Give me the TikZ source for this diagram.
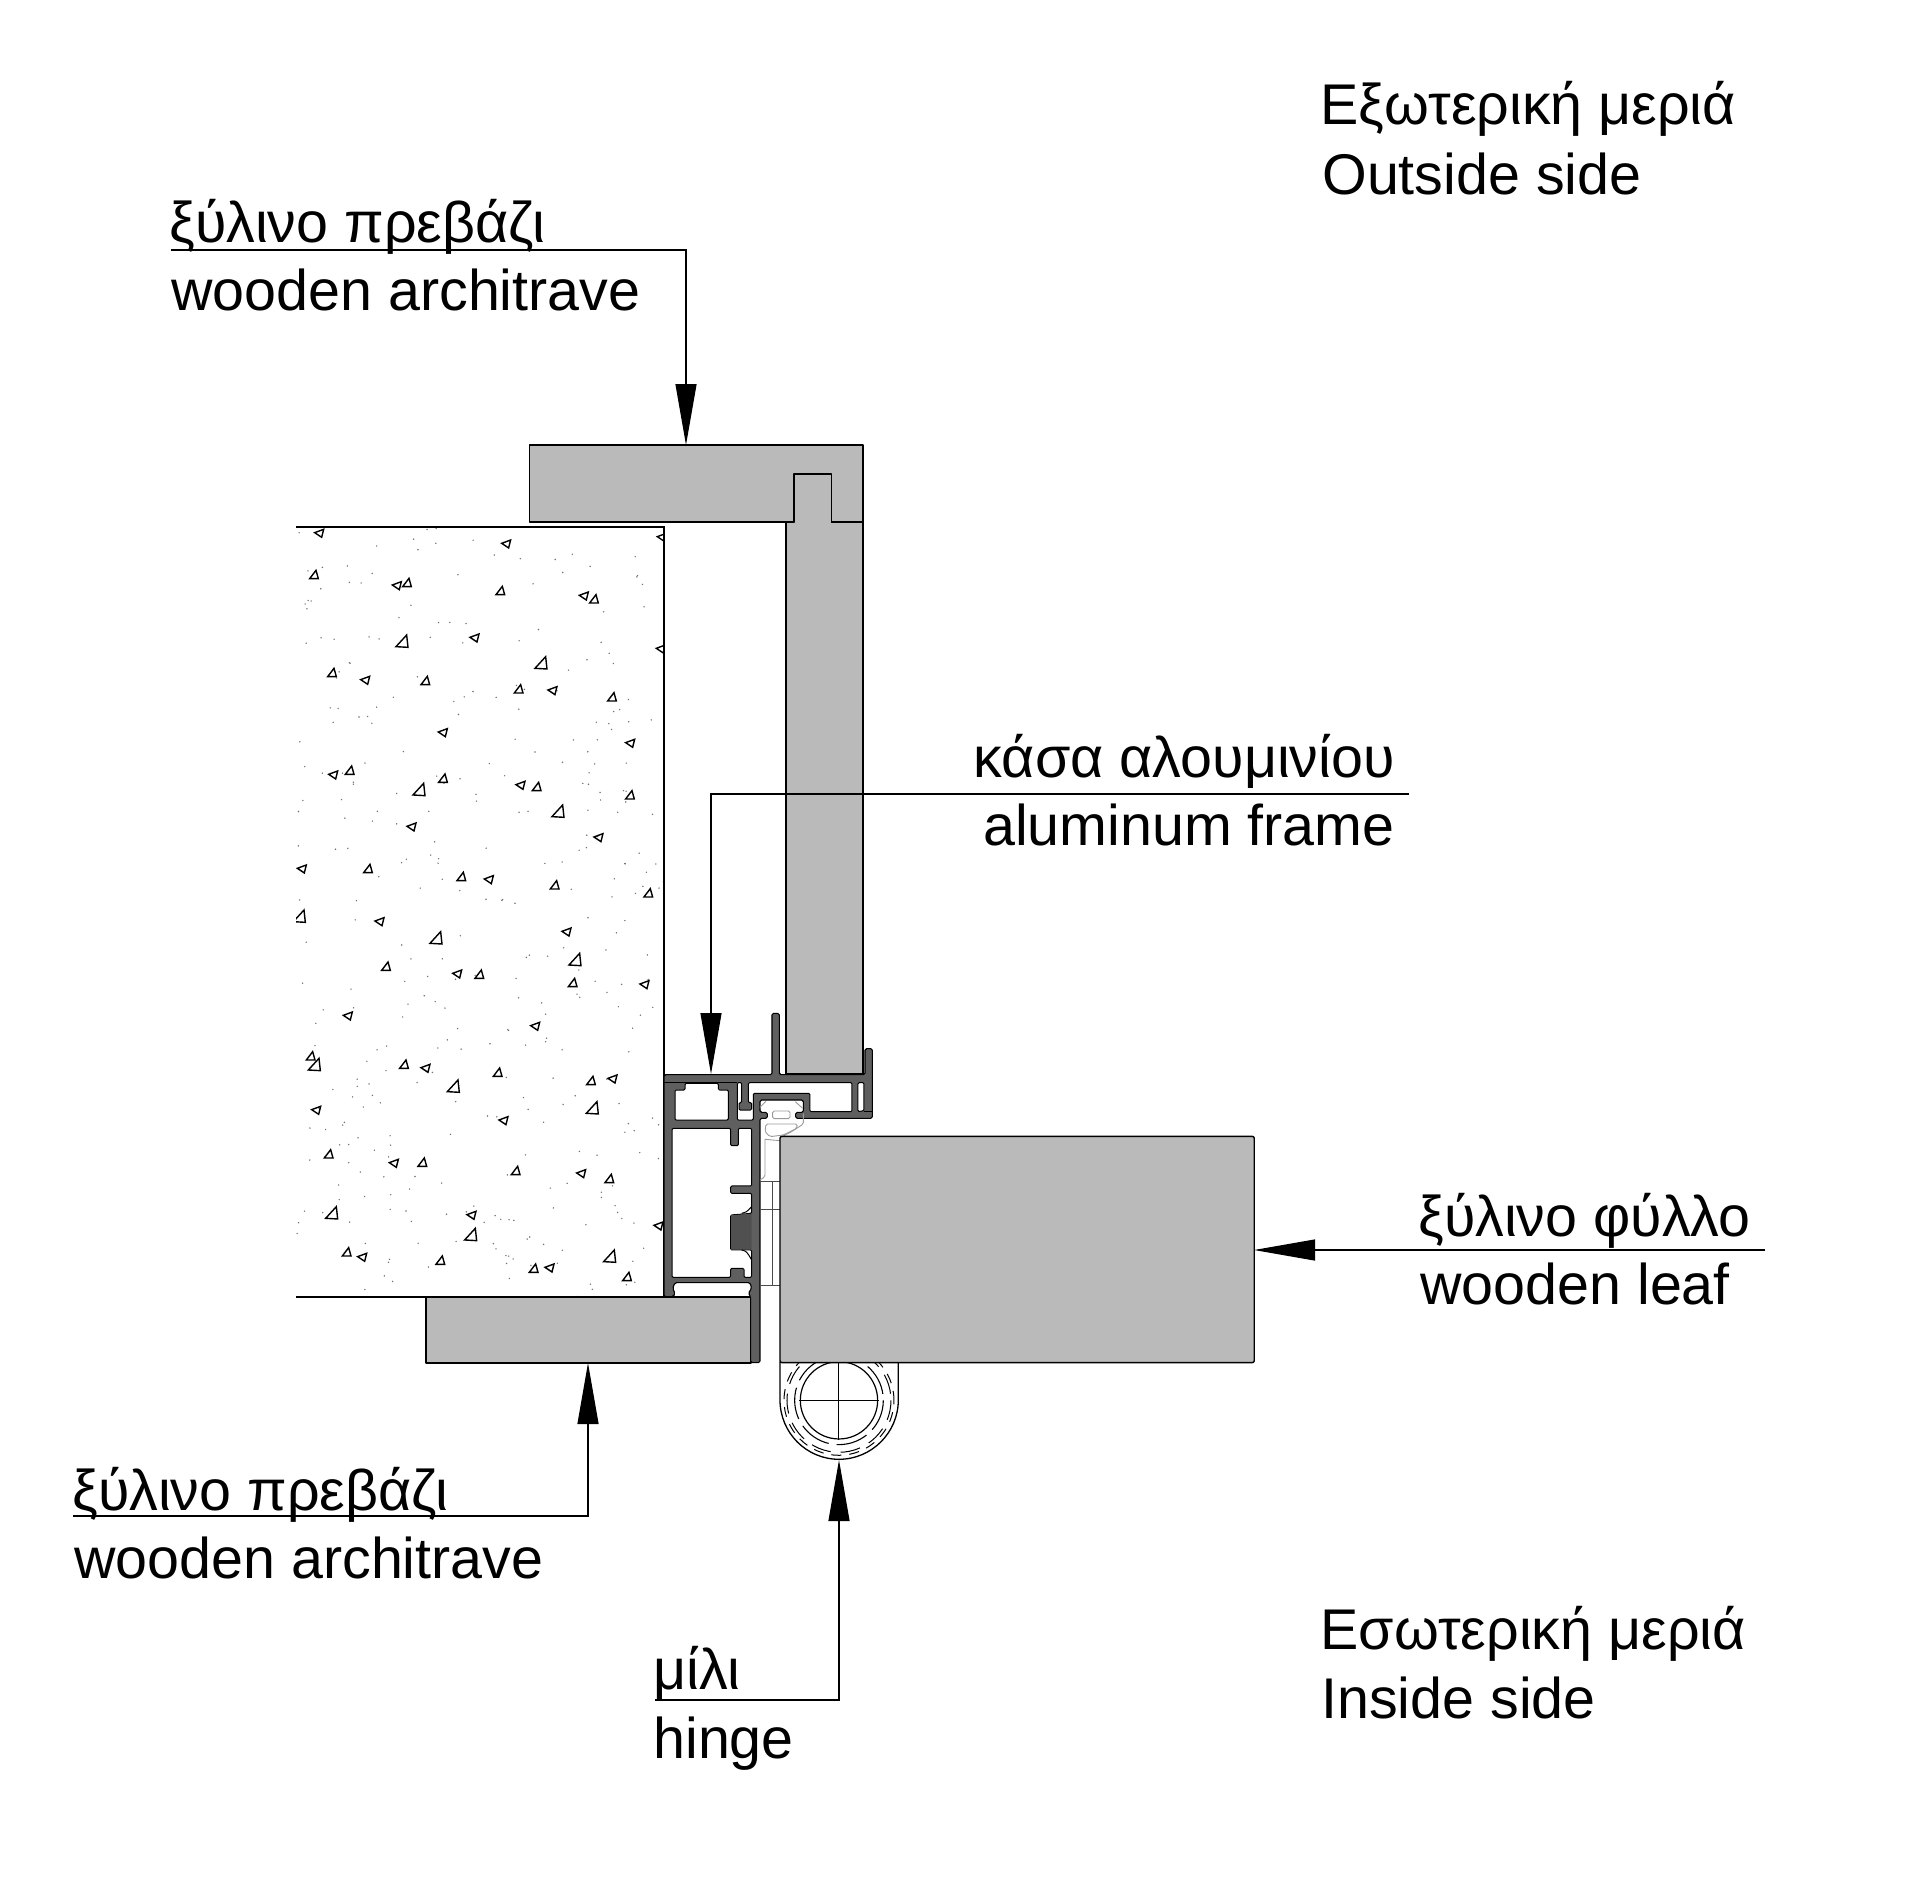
\documentclass[tikz,border=0pt]{standalone}
\usepackage{fontspec}
\setmainfont{Liberation Sans}
\usetikzlibrary{arrows.meta}
\definecolor{woodgrey}{HTML}{BABABA}
\definecolor{alugrey}{HTML}{5F5F5F}
\definecolor{blockgrey}{HTML}{505050}
\definecolor{sealgrey}{HTML}{9A9A9A}
\tikzset{
	woodpart/.style={fill=woodgrey,draw=black,line width=0.7pt,line join=round},
	alupart/.style={fill=alugrey,draw=black,line width=0.55pt,line join=round,rounded corners=0.8pt},
	alugap/.style={fill=white,draw=black,line width=0.5pt,line join=round,rounded corners=0.6pt},
	sealline/.style={draw=sealgrey,line width=0.45pt,rounded corners=0.8pt},
	grit/.style={draw=black,line width=0.7pt,line join=miter},
	leader/.style={draw=black,line width=0.6pt,-{Triangle[length=30.5pt,width=10.5pt]}},
	txt/.style={inner sep=0pt,anchor=base west,font=\fontsize{28.7}{34}\selectfont},
}
\begin{document}
\begin{tikzpicture}[x=0.5pt,y=-0.5pt]
	\useasboundingbox (0,0) rectangle (1920,1900);
	% concrete wall
	\begin{scope}
		\clip (296,527) rectangle (664,1297);
		\pgfmathsetseed{4711}
		\foreach \i in {1,...,340}
		{
			\fill[black!55] ({296+368*rnd},{527+770*rnd}) circle (0.8);
		}
		\begin{scope}[shift={(280,520)},scale=0.3333]
			\foreach \x/\y in {117/40,678/72,350/197,911/228,583/354,255/481,817/512,488/638,1050/670,159/765,721/796,394/921,955/953,65/1047,626/1079,1145/52,1142/387}
			{
				\draw[grit] (\x-13,\y-2) -- (\x+14,\y-12) -- (\x+8,\y+12) -- cycle;
			}
			\foreach \x/\y in {102/165,381/189,661/213,942/238,156/459,436/483,716/508,996/532,209/752,489/776,770/801,1050/826,264/1047,544/1071,824/1096,1105/1120}
			{
				\draw[grit] (\x-13,\y+11) -- (\x+13,\y+11) -- (\x+6,\y-14) -- cycle;
			}
			\foreach \x/\y in {367/365,784/430,418/810,835/875}
			{
				\draw[grit] (\x-19,\y+15) -- (\x+17,\y+17) -- (\x+13,\y-20) -- cycle;
			}
		\end{scope}
		\begin{scope}[shift={(280,900)},scale=0.3333]
			\foreach \x/\y in {298/65,859/96,531/222,1093/254,203/348,765/379,436/505,997/537,108/631,670/662,341/790,903/821,574/946,1135/978,246/1072,808/1104}
			{
				\draw[grit] (\x-13,\y-2) -- (\x+14,\y-12) -- (\x+8,\y+12) -- cycle;
			}
			\foreach \x/\y in {318/200,598/224,878/249,92/469,372/494,653/518,933/543,146/763,427/788,707/813,988/837,200/1057,481/1082,761/1106,1041/1131}
			{
				\draw[grit] (\x-13,\y+11) -- (\x+13,\y+11) -- (\x+6,\y-14) -- cycle;
			}
			\foreach \x/\y in {59/50,469/115,886/180,104/495,521/560,938/625,156/940,573/1005,990/1070}
			{
				\draw[grit] (\x-19,\y+15) -- (\x+17,\y+17) -- (\x+13,\y-20) -- cycle;
			}
		\end{scope}
	\end{scope}
	\draw[line width=0.7pt] (296,527) -- (664,527) -- (664,1297) -- (296,1297);
	% wooden parts
	\filldraw[woodpart] (786,1074) -- (786,522) -- (794,522) -- (794,474) -- (831.5,474) -- (831.5,522) -- (863,522) -- (863,1074) -- cycle;
	\filldraw[woodpart] (529.5,445) -- (863,445) -- (863,522) -- (831.5,522) -- (831.5,474) -- (794,474) -- (794,522) -- (529.5,522) -- cycle;
	\filldraw[woodpart] (426,1297) rectangle (751,1363);
	% frame, hinge and leaf, read off at three times the size
	\begin{scope}[shift={(640,1000)},scale=0.3333]
		\filldraw[alupart] (72,224) -- (396,224) -- (396,40) -- (418,40) -- (418,224) -- (675,224) -- (675,146) -- (697,146) -- (697,355) -- (467,355) -- (467,337) -- (490,337) -- (490,300) -- (360,300) -- (360,337) -- (382,337) -- (382,355) -- (360,355) -- (360,1088) -- (332,1088) -- (332,890) -- (325,880) -- (335,865) -- (330,848) -- (105,848) -- (98,865) -- (105,880) -- (100,890) -- (72,890) -- cycle;
		\draw[line width=0.5pt] (72,248) -- (292,248);
		\draw[line width=0.5pt] (672,333) -- (697,333);
		\filldraw[alugap] (292,248) -- (305,248) -- (305,308) -- (297,308) -- (297,330) -- (335,330) -- (335,308) -- (325,308) -- (325,248) -- (636,248) -- (636,335) -- (510,335) -- (510,280) -- (340,280) -- (340,360) -- (292,360) -- cycle;
		\filldraw[alugap] (654,248) -- (672,248) -- (672,332) -- (654,335) -- cycle;
		\filldraw[alugap] (105,270) -- (135,270) -- (135,250) -- (235,250) -- (235,270) -- (265,270) -- (265,360) -- (105,360) -- cycle;
		\filldraw[alugap] (96,385) -- (272,385) -- (272,437) -- (295,437) -- (295,385) -- (335,385) -- (335,558) -- (272,558) -- (272,580) -- (335,580) -- (335,640) -- (272,645) -- (272,750) -- (335,750) -- (335,832) -- (312,832) -- (312,805) -- (272,805) -- (272,832) -- (96,832) -- cycle;
		\fill[blockgrey] (273,646) -- (335,641) -- (335,749) -- (273,749) -- cycle;
		\draw[line width=0.5pt] (305,640) .. controls (320,636) .. (335,620);
		\draw[line width=0.5pt] (305,750) .. controls (320,754) .. (335,780);
		% seal and strap
		\draw[sealline] (360,322) -- (378,304);
		\draw[sealline] (466,305) -- (488,325);
		\draw[sealline] (398,333) rectangle (450,356);
		\draw[sealline] (490,340) -- (490,372) -- (450,398) -- (432,406) -- (420,420);
		\draw[sealline] (378,372) -- (472,372) -- (470,385) -- (430,405) -- (390,410) -- (375,395) -- cycle;
		\draw[sealline] (375,418) -- (420,422);
		\draw[sealline] (375,418) -- (375,530) -- (360,540);
		\draw[line width=0.45pt,black!70] (360,545) -- (420,545) (360,628) -- (420,628) (360,855) -- (420,855) (397,545) -- (397,855);
		% hinge
		\draw[line width=0.65pt] (420,1085) -- (420,1200) .. controls (420,1298) and (499,1378) .. (597,1378) .. controls (695,1378) and (775,1298) .. (775,1200) -- (775,1085);
		\draw[line width=0.6pt] (597,1201) circle (116);
		\draw[line width=0.5pt] (477,1201) -- (718,1201) (597,1085) -- (597,1320);
		\draw[line width=0.55pt,dash pattern=on 16pt off 4pt] (597,1201) circle (133);
		\draw[line width=0.5pt,dash pattern=on 10pt off 5pt] (597,1201) circle (156);
		\draw[line width=0.5pt,dash pattern=on 5pt off 4pt,dash phase=3pt] (597,1201) circle (165);
		\filldraw[woodpart,rounded corners=1pt] (420,409) -- (1843,409) -- (1843,1088) -- (420,1088) -- cycle;
	\end{scope}
	% labels
	\node[txt] (uparchgr) at (169,242) {ξύλινο πρεβάζι};
	\node[txt] (uparchen) at (171,310) {wooden architrave};
	\node[txt] (outgr) at (1320,125) {Εξωτερική μεριά};
	\node[txt] (outen) at (1322,194) {Outside side};
	\node[txt,anchor=base east] (framegr) at (1395,777) {κάσα αλουμινίου};
	\node[txt,anchor=base east] (frameen) at (1395,845) {aluminum frame};
	\node[txt] (leafgr) at (1418,1236) {ξύλινο φύλλο};
	\node[txt] (leafen) at (1420,1304) {wooden leaf};
	\node[txt] (lowarchgr) at (72,1510) {ξύλινο πρεβάζι};
	\node[txt] (lowarchen) at (74,1578) {wooden architrave};
	\node[txt] (hingegr) at (653,1689) {μίλι};
	\node[txt] (hingeen) at (653,1758) {hinge};
	\node[txt] (ingr) at (1320,1649) {Εσωτερική μεριά};
	\node[txt] (inen) at (1321,1718) {Inside side};
	% leaders
	\coordinate (upstart) at (171,250);
	\coordinate (upbend) at (686,250);
	\coordinate (uptip) at (686,445);
	\coordinate (framestart) at (1409,794);
	\coordinate (framebend) at (711,794);
	\coordinate (frametip) at (711,1074);
	\coordinate (leafstart) at (1765,1250);
	\coordinate (leaftip) at (1254,1250);
	\coordinate (lowstart) at (73,1516);
	\coordinate (lowbend) at (588,1516);
	\coordinate (lowtip) at (588,1363);
	\coordinate (hingestart) at (655,1700);
	\coordinate (hingebend) at (839,1700);
	\coordinate (hingetip) at (839,1460);
	\draw[leader] (upstart) -- (upbend) -- (uptip);
	\draw[leader] (framestart) -- (framebend) -- (frametip);
	\draw[leader] (leafstart) -- (leaftip);
	\draw[leader] (lowstart) -- (lowbend) -- (lowtip);
	\draw[leader] (hingestart) -- (hingebend) -- (hingetip);
\end{tikzpicture}
\end{document}
